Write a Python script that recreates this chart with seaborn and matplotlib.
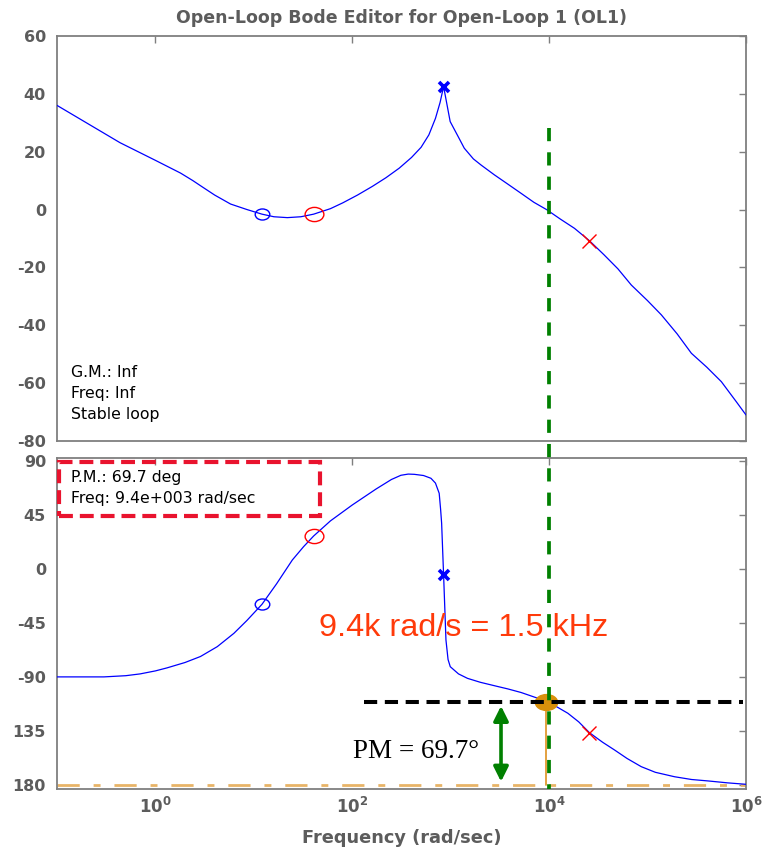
import numpy as np
import pandas as pd
import seaborn as sns
import matplotlib
matplotlib.use("Agg")
import matplotlib.pyplot as plt
from matplotlib.path import Path
from matplotlib.transforms import Affine2D, blended_transform_factory
from matplotlib.lines import Line2D
from matplotlib.patches import Rectangle

# ---- open-loop response (rad/s, dB, deg) ----
mag_freq = [0.1, 0.437, 1.0, 1.8, 2.4, 3.0, 4.0, 5.8, 8.5, 12.1, 16, 21.9, 30, 40.5,
            60, 80, 113, 160, 220, 300, 400, 500, 600, 700, 780, 847, 988, 1200, 1374,
            1700, 2032, 2775, 3800, 5190, 7000, 9400, 13000, 18100, 25700, 36000, 50000,
            68400, 100000, 138000, 200000, 279000, 400000, 562000, 800000, 1.0e6]
mag_db = [36.0, 23.1, 17.0, 12.6, 10.0, 7.8, 5.0, 1.9, 0.0, -1.6, -2.5, -2.8, -2.5, -1.6,
          0.3, 2.3, 5.0, 8.0, 11.0, 14.3, 18.0, 21.5, 25.8, 31.5, 37.0, 42.5, 30.4, 25.0,
          21.2, 17.5, 15.4, 12.0, 8.8, 5.6, 2.5, 0.0, -3.3, -6.5, -10.8, -15.6, -20.5,
          -26.1, -31.5, -36.4, -43.0, -49.7, -54.5, -59.5, -66.5, -71.0]

ph_freq = [0.1, 0.3, 0.5, 0.7, 1.0, 1.31, 2.0, 2.87, 4.25, 6.27, 8.5, 12.1, 17, 24.6, 32,
           40.5, 60, 100, 174, 250, 312, 370, 427, 530, 630, 700, 764, 790, 809, 847, 895,
           940, 990, 1200, 1480, 2000, 3000, 3800, 5190, 7670, 9400, 12000, 15500, 20000,
           25700, 35000, 46200, 62000, 86300, 120000, 188000, 280000, 412000, 650000, 1.0e6]
ph_deg = [-89.5, -89.5, -88.5, -87.0, -84.5, -82.0, -77.5, -72.5, -64.3, -53.2, -42.5,
          -29.0, -12.0, 7.9, 19.0, 27.9, 40.5, 53.75, 67.0, 75.0, 78.5, 79.5, 79.3, 78.3,
          76.0, 72.0, 63.5, 50.0, 38.5, -4.6, -58.75, -75.0, -81.0, -87.0, -90.7, -94.0,
          -97.5, -99.5, -102.5, -107.3, -110.3, -114.5, -119.8, -127.0, -136.0, -144.0,
          -150.4, -157.5, -164.3, -169.0, -172.7, -175.0, -176.2, -177.8, -179.0]

# compensator zeros (o) and poles (x)
zero_freq = [12.1, 40.5]
zero_mag = [-1.6, -1.6]
zero_ph = [-29.0, 27.9]
zero_col = ["#0000ff", "#ff0000"]
pole_freq = [847, 25700]
pole_mag = [42.5, -10.8]
pole_ph = [-4.6, -136.0]
pole_col = ["#0000ff", "#ff0000"]

# margins
pm_deg = 69.7
wc = 9.4e3
wc_guide = 1.0e4
pm_arrow_freq = 3245
pm_line_start = 131

xticks = [1, 1e2, 1e4, 1e6]
xtick_labels = [r"$\mathbf{10^{0}}$", r"$\mathbf{10^{2}}$", r"$\mathbf{10^{4}}$", r"$\mathbf{10^{6}}$"]
mag_ticks = [-80, -60, -40, -20, 0, 20, 40, 60]
ph_ticks = [-180, -135, -90, -45, 0, 45, 90]
ph_tick_labels = ["180", "135", "-90", "-45", "0", "45", "90"]

sns.set_theme(style="white")
plt.rcParams["font.family"] = ["DejaVu Sans"]
plt.rcParams["axes.unicode_minus"] = False
plt.rcParams["lines.scale_dashes"] = False
plt.rcParams["mathtext.fontset"] = "dejavusans"

GRAY = "#5c5c5c"
SPINE = "#7f7f7f"

fig = plt.figure(figsize=(7.64, 8.48), dpi=100)
ax1 = fig.add_axes([0.0746, 0.4800, 0.9018, 0.4776])
ax2 = fig.add_axes([0.0746, 0.0696, 0.9018, 0.3903])

mag_df = pd.DataFrame({"freq": mag_freq, "mag": mag_db})
ph_df = pd.DataFrame({"freq": ph_freq, "phase": ph_deg})
sns.lineplot(data=mag_df, x="freq", y="mag", ax=ax1, color="#0000ff", lw=0.9,
             estimator=None, sort=False, zorder=3)
sns.lineplot(data=ph_df, x="freq", y="phase", ax=ax2, color="#0000ff", lw=0.9,
             estimator=None, sort=False, zorder=3)

ellipse = Path(Affine2D().scale(1.32, 1.0).transform(Path.unit_circle().vertices),
               Path.unit_circle().codes)

for i in range(len(zero_freq)):
    size = 10.5 if i == 0 else 13.5
    ax1.plot([zero_freq[i]], [zero_mag[i]], marker=ellipse, ms=size, mfc="none",
             mec=zero_col[i], mew=1.0, ls="none", zorder=4)
    ax2.plot([zero_freq[i]], [zero_ph[i]], marker=ellipse, ms=size, mfc="none",
             mec=zero_col[i], mew=1.0, ls="none", zorder=4)
ax1.plot([pole_freq[0]], [pole_mag[0]], marker="x", ms=7, mew=2.6, color=pole_col[0], ls="none", zorder=4)
ax2.plot([pole_freq[0]], [pole_ph[0]], marker="x", ms=7, mew=2.6, color=pole_col[0], ls="none", zorder=4)
ax1.plot([pole_freq[1]], [pole_mag[1]], marker="x", ms=9.5, mew=1.0, color=pole_col[1], ls="none", zorder=4)
ax2.plot([pole_freq[1]], [pole_ph[1]], marker="x", ms=9.5, mew=1.0, color=pole_col[1], ls="none", zorder=4)

# axes styling
for ax in (ax1, ax2):
    ax.set_xscale("log")
    ax.set_xlim(0.1, 1e6)
    ax.set_xticks(xticks)
    ax.minorticks_off()
    ax.set_xlabel("")
    ax.set_ylabel("")
    for s in ax.spines.values():
        s.set_color(SPINE)
        s.set_linewidth(1.3)
    ax.tick_params(direction="in", length=5, width=1, color=SPINE, top=True, right=True,
                   labelcolor=GRAY, labelsize=11.5, pad=8)

ax1.set_ylim(-80, 60)
ax1.set_yticks(mag_ticks)
ax1.set_yticklabels([str(t) for t in mag_ticks], fontweight="bold")
ax1.set_xticklabels([])

ax2.set_ylim(-182.9, 92.9)
ax2.set_yticks(ph_ticks)
ax2.set_yticklabels(ph_tick_labels, fontweight="bold")
ax2.set_xticklabels(xtick_labels, fontsize=12)
ax2.tick_params(axis="x", pad=6)
ax2.set_xlabel("Frequency (rad/sec)", fontsize=12.8, fontweight="bold", color=GRAY, labelpad=8)

ax1.set_title("Open-Loop Bode Editor for Open-Loop 1 (OL1)", fontsize=12.5,
              fontweight="bold", color=GRAY, pad=9)

# stability readouts
ax1.text(0.0203, 0.116, "G.M.: Inf\nFreq: Inf\nStable loop", transform=ax1.transAxes,
         fontsize=11.3, color="black", va="center", ha="left", linespacing=1.5)
ax2.text(0.0203, 0.909, f"P.M.: {pm_deg} deg\nFreq: 9.4e+003 rad/sec", transform=ax2.transAxes,
         fontsize=11.3, color="black", va="center", ha="left", linespacing=1.5)
ax2.add_patch(Rectangle((0.003, 0.825), 0.379, 0.163, transform=ax2.transAxes, fill=False,
                        ec="#e9132e", lw=3.0, ls=(0, (10, 5)), clip_on=False, zorder=5))

# phase-margin construction
ax2.axhline(-180, color="#e8b468", lw=2.0, ls=(0, (16, 10, 5, 10)), zorder=2)
ax2.plot([pm_line_start, 9.3e5], [pm_deg - 180, pm_deg - 180], color="black", lw=2.9,
         ls=(0, (9.5, 5.5)), zorder=5)
ax2.plot([wc, wc], [pm_deg - 180, -180], color="#e09a30", lw=1.3, zorder=3)
crossover = Path(Affine2D().scale(1.4, 1.0).transform(Path.unit_circle().vertices),
                 Path.unit_circle().codes)
ax2.plot([wc], [pm_deg - 180], marker=crossover, ms=16, mfc="#d9900b", mec="#d9900b",
         ls="none", zorder=4)
ax2.annotate("", xy=(pm_arrow_freq, pm_deg - 180 - 3.4), xytext=(pm_arrow_freq, -176.8),
             arrowprops=dict(arrowstyle="<|-|>", color="#008000", lw=2.6,
                             mutation_scale=22, shrinkA=0, shrinkB=0), zorder=6)

ax2.text(0.5907, 0.4864, "9.4k rad/s = 1.5 kHz", transform=ax2.transAxes, fontsize=23.3,
         color="#ff3a0a", family="Liberation Sans", ha="center", va="center", zorder=6)
ax2.text(0.521, 0.112, "PM = 69.7°", transform=ax2.transAxes, fontsize=19.5,
         color="black", family="Liberation Serif", ha="center", va="center", zorder=6)

# crossover guide spanning both panels
guide = Line2D([wc_guide, wc_guide], [1 - 128 / 848, 1 - 789 / 848],
               transform=blended_transform_factory(ax2.transData, fig.transFigure),
               color="#008000", lw=2.7, ls=(0, (9.5, 8)), zorder=10)
fig.add_artist(guide)

fig.savefig("out.png", dpi=100, facecolor="white")
